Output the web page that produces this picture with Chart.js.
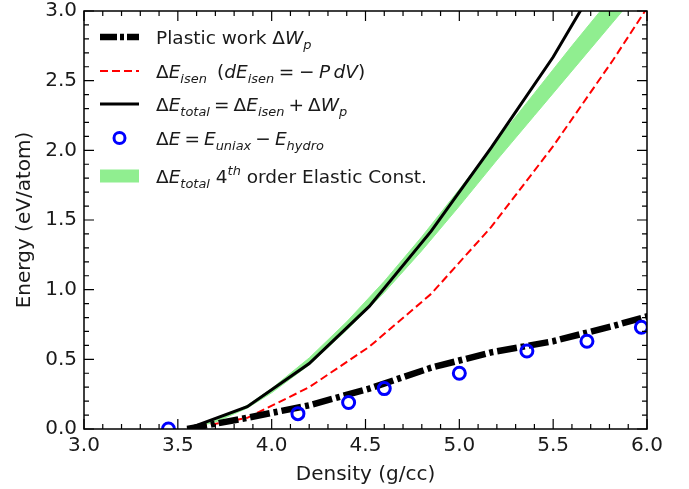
<!DOCTYPE html>
<html>
<head>
<meta charset="utf-8">
<script src="https://cdn.jsdelivr.net/npm/chart.js@4.4.1/dist/chart.umd.min.js"></script>
<style>
  html, body { margin: 0; padding: 0; background: #fff; }
  canvas { display: block; }
</style>
</head>
<body>
<canvas id="energyChart" width="689" height="489"></canvas>
<script>
// compression states (g/cc) along the isentrope
var density = [3.55, 3.87, 4.20, 4.52, 4.85, 5.17, 5.50, 5.82, 6.14];
var plasticWork = [0.00, 0.08, 0.17, 0.29, 0.44, 0.55, 0.63, 0.74, 0.86];
var isenEnergy = [0.00, 0.08, 0.30, 0.59, 0.97, 1.45, 2.03, 2.65, 3.31];
var totalEnergy = [0.00, 0.16, 0.47, 0.88, 1.42, 2.02, 2.67, 3.40, 4.17];

// direct uniaxial - hydrostatic energy difference
var uniaxDensity = [3.45, 4.14, 4.41, 4.60, 5.00, 5.36, 5.68, 5.97];
var uniaxEnergy = [0.00, 0.11, 0.19, 0.29, 0.40, 0.56, 0.63, 0.73];

// 4th order elastic constant estimate (band)
var bandDensity = [3.55, 3.70, 3.87, 4.00, 4.20, 4.40, 4.60, 4.80, 5.00, 5.20, 5.40, 5.60, 5.80, 6.00];
var bandUpper = [0.00, 0.06, 0.17, 0.29, 0.51, 0.77, 1.06, 1.38, 1.72, 2.07, 2.41, 2.75, 3.08, 3.41];
var bandLower = [0.00, 0.05, 0.15, 0.26, 0.46, 0.71, 0.98, 1.28, 1.60, 1.93, 2.25, 2.57, 2.89, 3.21];

var xTicks = [3.0, 3.5, 4.0, 4.5, 5.0, 5.5, 6.0];
var yTicks = [0.0, 0.5, 1.0, 1.5, 2.0, 2.5, 3.0];

var FONT = '"DejaVu Sans"';
var GREEN = 'rgb(144,238,144)';
var TEXT = '#1a1a1a';
var DASHDOT = [20, 4, 4, 4];
var DASHED = [8, 4];

function pts(xs, ys) {
    return xs.map(function (x, i) { return { x: x, y: ys[i] }; });
}

// legend rows: [text, style]  style: '' upright, 'i' italic, 'is' italic subscript,
// 'isup' italic superscript, 'gap' blank space in em
var legendRows = [
    { kind: 'dashdot', parts: [['Plastic work Δ', ''], ['W', 'i'], ['p', 'is']] },
    { kind: 'dashed', parts: [['Δ', ''], ['E', 'i'], ['isen', 'is'], [0.55, 'gap'], ['(', ''], ['dE', 'i'], ['isen', 'is'],
        [0.25, 'gap'], ['=', ''], [0.25, 'gap'], ['−', ''], [0.25, 'gap'], ['P', 'i'], [0.18, 'gap'], ['dV', 'i'], [')', '']] },
    { kind: 'solid', parts: [['Δ', ''], ['E', 'i'], ['total', 'is'], [0.22, 'gap'], ['=', ''], [0.22, 'gap'], ['Δ', ''], ['E', 'i'], ['isen', 'is'],
        [0.22, 'gap'], ['+', ''], [0.22, 'gap'], ['Δ', ''], ['W', 'i'], ['p', 'is']] },
    { kind: 'circle', parts: [['Δ', ''], ['E', 'i'], [0.22, 'gap'], ['=', ''], [0.22, 'gap'], ['E', 'i'], ['uniax', 'is'],
        [0.22, 'gap'], ['−', ''], [0.22, 'gap'], ['E', 'i'], ['hydro', 'is']] },
    { kind: 'patch', parts: [['Δ', ''], ['E', 'i'], ['total', 'is'], [' 4', ''], ['th', 'isup'], [' order Elastic Const.', '']] }
];
var legendY = [37, 71, 104, 138, 176];

function drawRich(ctx, x, y, parts, size) {
    parts.forEach(function (p) {
        var st = p[1];
        if (st === 'gap') { x += p[0] * size; return; }
        var small = st === 'is' || st === 'isup';
        var fs = small ? size * 0.7 : size;
        ctx.font = (st.indexOf('i') === 0 ? 'italic ' : '') + fs + 'px ' + FONT;
        var dy = 0;
        if (st === 'is') dy = size * 0.28;
        if (st === 'isup') dy = -size * 0.42;
        ctx.fillText(p[0], x, y + dy);
        x += ctx.measureText(p[0]).width;
    });
}

var framePlugin = {
    id: 'frame',
    afterDatasetsDraw: function (chart) {
        var ctx = chart.ctx, a = chart.chartArea;
        var xs = chart.scales.x, ys = chart.scales.y;
        ctx.save();
        ctx.strokeStyle = '#000';
        ctx.lineWidth = 1.5;
        ctx.strokeRect(a.left, a.top, a.right - a.left, a.bottom - a.top);
        ctx.lineWidth = 1.2;
        for (var i = 0; i <= 30; i++) {
            var len = i % 5 === 0 ? 10 : 5;
            var px = xs.getPixelForValue(3 + i * 0.1);
            var py = ys.getPixelForValue(i * 0.1);
            ctx.beginPath();
            ctx.moveTo(px, a.bottom); ctx.lineTo(px, a.bottom - len);
            ctx.moveTo(px, a.top); ctx.lineTo(px, a.top + len);
            ctx.moveTo(a.left, py); ctx.lineTo(a.left + len, py);
            ctx.moveTo(a.right, py); ctx.lineTo(a.right - len, py);
            ctx.stroke();
        }
        ctx.restore();
    },
    afterDraw: function (chart) {
        var ctx = chart.ctx;
        var x0 = 100, x1 = 139, tx = 156, size = 18.5;
        ctx.save();
        legendRows.forEach(function (row, k) {
            var y = legendY[k];
            ctx.setLineDash([]);
            if (row.kind === 'dashdot') {
                ctx.strokeStyle = '#000'; ctx.lineWidth = 6.5;
                ctx.setLineDash([17, 3, 4, 3]);
                ctx.beginPath(); ctx.moveTo(x0, y); ctx.lineTo(x1, y); ctx.stroke();
            } else if (row.kind === 'dashed') {
                ctx.strokeStyle = '#ff0000'; ctx.lineWidth = 2;
                ctx.setLineDash(DASHED);
                ctx.beginPath(); ctx.moveTo(x0, y); ctx.lineTo(x1, y); ctx.stroke();
            } else if (row.kind === 'solid') {
                ctx.strokeStyle = '#000'; ctx.lineWidth = 3;
                ctx.beginPath(); ctx.moveTo(x0, y); ctx.lineTo(x1, y); ctx.stroke();
            } else if (row.kind === 'circle') {
                ctx.strokeStyle = '#0000ff'; ctx.lineWidth = 3;
                ctx.beginPath(); ctx.arc((x0 + x1) / 2, y, 5.5, 0, Math.PI * 2); ctx.stroke();
            } else {
                ctx.fillStyle = GREEN;
                ctx.fillRect(x0, y - 6.5, x1 - x0, 13);
            }
            ctx.fillStyle = TEXT;
            ctx.textBaseline = 'alphabetic';
            drawRich(ctx, tx, y + size * 0.36, row.parts, size);
        });
        ctx.restore();
    }
};

var ctx = document.getElementById('energyChart').getContext('2d');
var chart = new Chart(ctx, {
    type: 'scatter',
    data: {
        datasets: [{
            label: 'band lower',
            data: pts(bandDensity, bandLower),
            showLine: true,
            borderColor: GREEN,
            borderWidth: 1,
            pointRadius: 0,
            fill: false,
            order: 5
        }, {
            label: 'ΔE total 4th order Elastic Const.',
            data: pts(bandDensity, bandUpper),
            showLine: true,
            borderColor: GREEN,
            backgroundColor: GREEN,
            borderWidth: 1,
            pointRadius: 0,
            fill: '-1',
            order: 4
        }, {
            label: 'ΔE isen',
            data: pts(density, isenEnergy),
            showLine: true,
            borderColor: '#ff0000',
            borderWidth: 2,
            borderDash: DASHED,
            pointRadius: 0,
            order: 3
        }, {
            label: 'ΔE total',
            data: pts(density, totalEnergy),
            showLine: true,
            borderColor: '#000',
            borderWidth: 3,
            pointRadius: 0,
            order: 2
        }, {
            label: 'Plastic work ΔWp',
            data: pts(density, plasticWork),
            showLine: true,
            borderColor: '#000',
            borderWidth: 6.5,
            borderDash: DASHDOT,
            pointRadius: 0,
            order: 1
        }, {
            label: 'ΔE = E uniax − E hydro',
            data: pts(uniaxDensity, uniaxEnergy),
            showLine: false,
            borderColor: '#0000ff',
            backgroundColor: 'rgba(0,0,0,0)',
            borderWidth: 3,
            pointRadius: 6,
            clip: { left: 0, top: 0, right: 0, bottom: 0 },
            order: 0
        }]
    },
    options: {
        responsive: false,
        animation: false,
        devicePixelRatio: 1,
        layout: { padding: { top: 0, right: 42, left: 0, bottom: 0 } },
        plugins: {
            legend: { display: false },
            tooltip: { enabled: false }
        },
        scales: {
            x: {
                type: 'linear',
                min: 3, max: 6,
                afterFit: function (s) { s.height = 60; },
                afterBuildTicks: function (s) { s.ticks = xTicks.map(function (v) { return { value: v }; }); },
                ticks: {
                    padding: 5,
                    color: TEXT,
                    font: { family: FONT, size: 20 },
                    callback: function (v) { return v.toFixed(1); }
                },
                grid: { display: false, drawTicks: false },
                border: { display: false },
                title: {
                    display: true,
                    text: 'Density (g/cc)',
                    color: TEXT,
                    font: { family: FONT, size: 20 },
                    padding: { top: 0, bottom: 2 }
                }
            },
            y: {
                type: 'linear',
                min: 0, max: 3,
                afterFit: function (s) { s.width = 84; s.paddingTop = 11; },
                afterBuildTicks: function (s) { s.ticks = yTicks.map(function (v) { return { value: v }; }); },
                ticks: {
                    padding: 7,
                    color: TEXT,
                    font: { family: FONT, size: 20, lineHeight: 1.1 },
                    callback: function (v) { return v.toFixed(1); }
                },
                grid: { display: false, drawTicks: false },
                border: { display: false },
                title: {
                    display: true,
                    text: 'Energy (eV/atom)',
                    color: TEXT,
                    font: { family: FONT, size: 20 },
                    padding: { top: 13, bottom: 0 }
                }
            }
        }
    },
    plugins: [framePlugin]
});
</script>
</body>
</html>
